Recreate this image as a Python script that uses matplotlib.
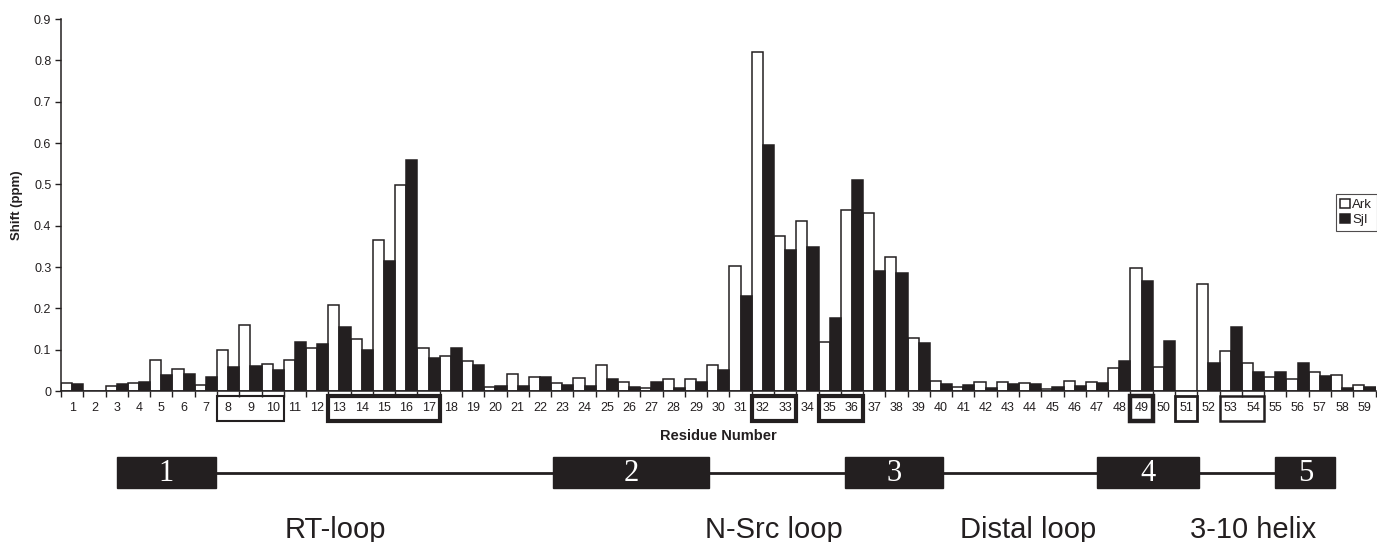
import matplotlib.pyplot as plt
import matplotlib.transforms as mtransforms
from matplotlib.patches import Rectangle
from matplotlib.ticker import FixedLocator, FuncFormatter

plt.rcParams['font.family'] = ['Liberation Sans', 'DejaVu Sans']

INK = "#231f20"

residues = list(range(1, 60))

# chemical shift perturbation per residue (ppm)
ark = [0.020, 0.000, 0.011, 0.019, 0.074, 0.053, 0.014, 0.100, 0.159, 0.066,
       0.074, 0.105, 0.209, 0.125, 0.366, 0.498, 0.105, 0.084, 0.072, 0.010,
       0.042, 0.034, 0.020, 0.032, 0.063, 0.021, 0.007, 0.028, 0.028, 0.063,
       0.302, 0.819, 0.376, 0.412, 0.118, 0.438, 0.430, 0.324, 0.128, 0.025,
       0.009, 0.021, 0.021, 0.019, 0.006, 0.025, 0.021, 0.055, 0.298, 0.058,
       0.000, 0.258, 0.097, 0.067, 0.034, 0.030, 0.046, 0.038, 0.015]
sji = [0.017, 0.000, 0.017, 0.022, 0.038, 0.041, 0.033, 0.059, 0.061, 0.052,
       0.119, 0.113, 0.155, 0.098, 0.314, 0.558, 0.080, 0.104, 0.062, 0.012,
       0.011, 0.035, 0.015, 0.011, 0.028, 0.009, 0.022, 0.007, 0.022, 0.051,
       0.229, 0.595, 0.340, 0.348, 0.176, 0.511, 0.291, 0.285, 0.117, 0.017,
       0.014, 0.007, 0.017, 0.017, 0.009, 0.011, 0.020, 0.072, 0.267, 0.121,
       0.000, 0.067, 0.154, 0.046, 0.046, 0.067, 0.036, 0.008, 0.010]

# boxed residue groups under the axis: (first, last, line weight)
boxed_groups = [(8, 10, 1.5), (13, 17, 3.0), (32, 33, 3.0), (35, 36, 3.0),
                (49, 49, 3.2), (51, 51, 2.0), (53, 54, 1.8)]

# beta strands in residue units
strands = [(3.0, 7.45), (22.6, 29.6), (35.7, 40.1), (47.0, 51.6), (55.0, 57.7)]
strand_names = ["1", "2", "3", "4", "5"]

loop_names = ["RT-loop", "N-Src loop", "Distal loop", "3-10 helix"]
loop_centres = [12.8, 32.5, 43.9, 54.0]

fig = plt.figure(figsize=(13.77, 5.42), dpi=100)
ax = fig.add_axes([61 / 1377, 151 / 542, 1314.5 / 1377, 372 / 542])

w = 0.5
ax.bar([r - w / 2 for r in residues], ark, width=w, color="white",
       edgecolor=INK, linewidth=1.1, label="Ark")
ax.bar([r + w / 2 for r in residues], sji, width=w, color=INK,
       edgecolor=INK, linewidth=1.1, label="SjI")

ax.set_xlim(0.5, 59.5)
ax.set_ylim(0, 0.9)

ax.set_yticks([i / 10 for i in range(10)])
ax.yaxis.set_major_formatter(FuncFormatter(lambda v, p: "0" if v == 0 else f"{v:.1f}"))
ax.tick_params(axis="y", direction="out", length=4, width=1, colors=INK,
               labelsize=9, pad=3)

ax.set_xticks(residues)
ax.xaxis.set_minor_locator(FixedLocator([r + 0.5 for r in [0] + residues]))
ax.tick_params(axis="x", which="major", length=0, labelsize=9, pad=8,
               colors=INK)
ax.tick_params(axis="x", which="minor", direction="out", length=4, width=1,
               color=INK)

for side in ["top", "right"]:
    ax.spines[side].set_visible(False)
for side in ["left", "bottom"]:
    ax.spines[side].set_color(INK)
    ax.spines[side].set_linewidth(1.1)

ax.set_xlabel("Residue Number", fontsize=10.5, fontweight="bold", color=INK,
              labelpad=11)
ax.set_ylabel("Shift (ppm)", fontsize=9.5, fontweight="bold", color=INK,
              labelpad=8)

leg = ax.legend(loc="center right", bbox_to_anchor=(1.001, 0.48), fontsize=9.5,
                handlelength=0.7, handleheight=0.7, handletextpad=0.2,
                borderpad=0.35, labelspacing=0.25, borderaxespad=0,
                fancybox=False, frameon=True)
leg.get_frame().set_edgecolor(INK)
leg.get_frame().set_linewidth(0.8)
for t in leg.get_texts():
    t.set_color(INK)

trans = mtransforms.blended_transform_factory(ax.transData, ax.transAxes)

# boxes around selected residue labels
for first, last, lw in boxed_groups:
    ax.add_patch(Rectangle((first - 0.5, -0.081), last - first + 1, 0.067,
                           transform=trans, fill=False, edgecolor=INK,
                           linewidth=lw, clip_on=False))

# secondary structure schematic
for (a, b), (c, d) in zip(strands[:-1], strands[1:]):
    ax.plot([b, c], [-0.220, -0.220], transform=trans, color=INK,
            linewidth=2, clip_on=False)
for (a, b), name in zip(strands, strand_names):
    ax.add_patch(Rectangle((a, -0.262), b - a, 0.085, transform=trans,
                           facecolor=INK, edgecolor=INK, clip_on=False))
    ax.text((a + b) / 2, -0.222, name, transform=trans, ha="center",
            va="center", color="white", fontsize=22,
            family=["Liberation Serif", "DejaVu Serif"])

for name, x in zip(loop_names, loop_centres):
    ax.text(x, -0.395, name, transform=trans, ha="center", va="baseline",
            fontsize=21, color=INK)

fig.savefig("out.png", dpi=100)
